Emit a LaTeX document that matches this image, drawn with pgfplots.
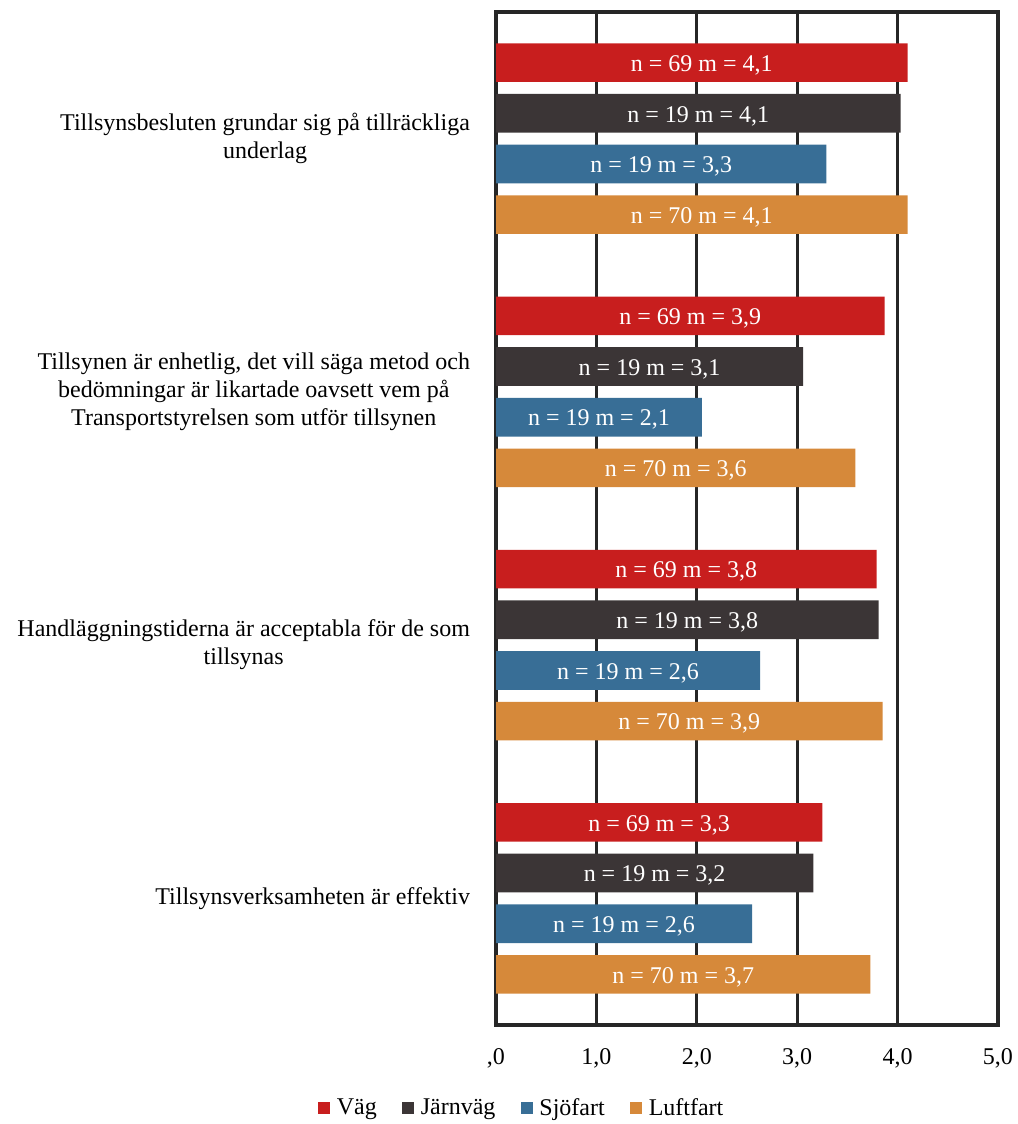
\documentclass[border=0pt]{standalone}
\usepackage{fontspec}
\setmainfont{Liberation Serif}
\usepackage{pgfplots}
\pgfplotsset{compat=1.18}
\usepackage{pgfplotstable}
\definecolor{cVag}{HTML}{C81E1E}
\definecolor{cJarn}{HTML}{3B3536}
\definecolor{cSjo}{HTML}{386E96}
\definecolor{cLuft}{HTML}{D6893A}
\definecolor{cLine}{HTML}{262626}

\pgfplotstableread[col sep=semicolon]{
y;v;lab
0.2;4.10;n = 69 m = 4,1
1.2;3.87;n = 69 m = 3,9
2.2;3.79;n = 69 m = 3,8
3.2;3.25;n = 69 m = 3,3
}\vag
\pgfplotstableread[col sep=semicolon]{
y;v;lab
0.4;4.03;n = 19 m = 4,1
1.4;3.06;n = 19 m = 3,1
2.4;3.81;n = 19 m = 3,8
3.4;3.16;n = 19 m = 3,2
}\jarn
\pgfplotstableread[col sep=semicolon]{
y;v;lab
0.6;3.29;n = 19 m = 3,3
1.6;2.05;n = 19 m = 2,1
2.6;2.63;n = 19 m = 2,6
3.6;2.55;n = 19 m = 2,6
}\sjo
\pgfplotstableread[col sep=semicolon]{
y;v;lab
0.8;4.10;n = 70 m = 4,1
1.8;3.58;n = 70 m = 3,6
2.8;3.85;n = 70 m = 3,9
3.8;3.73;n = 70 m = 3,7
}\luft

\pgfplotsset{
  barstyle/.style={xbar, bar width=29pt, bar shift=0pt, draw=none, fill=#1},
  labstyle/.style={forget plot, only marks, mark=*, mark size=0pt, draw=none,
    nodes near coords, point meta=explicit symbolic,
    every node near coord/.append style={white, anchor=center, inner sep=0pt, yshift=-2pt}},
}

\begin{document}
\begin{tikzpicture}[font=\fontsize{18}{21}\selectfont]
\path[use as bounding box] (0,0) rectangle (762.75pt,843pt);
\begin{axis}[
  at={(372pt,74.25pt)}, anchor=south west, scale only axis,
  width=376.5pt, height=759.75pt,
  xmin=0, xmax=5, ymin=0, ymax=4, y dir=reverse,
  xtick={0,1,2,3,4,5},
  xticklabels={{,0},{1,0},{2,0},{3,0},{4,0},{5,0}},
  ytick={0.5,1.5,2.5,3.5},
  yticklabels={
    {Tillsynsbesluten grundar sig på tillräckliga\\underlag},
    {Tillsynen är enhetlig, det vill säga metod och\\bedömningar är likartade oavsett vem på\\Transportstyrelsen som utför tillsynen},
    {Handläggningstiderna är acceptabla för de som\\tillsynas},
    {Tillsynsverksamheten är effektiv}},
  yticklabel style={align=center, xshift=-16pt},
  xticklabel style={yshift=-14pt},
  major tick length=0pt,
  xmajorgrids,
  grid style={line width=2.2pt, color=cLine},
  axis line style={line width=2.6pt, color=cLine},
  legend columns=4,
  legend style={draw=none, at={(axis description cs:0.056,-0.082)}, anchor=center,
    /tikz/every even column/.append style={column sep=14pt},
    nodes={inner xsep=5pt}},
  legend image code/.code={\fill[#1] (0pt,-4.5pt) rectangle (9pt,4.5pt);},
]
\addplot[barstyle=cVag] table[x=v,y=y]{\vag};
\addlegendentry{Väg}
\addplot[barstyle=cJarn] table[x=v,y=y]{\jarn};
\addlegendentry{Järnväg}
\addplot[barstyle=cSjo] table[x=v,y=y]{\sjo};
\addlegendentry{Sjöfart}
\addplot[barstyle=cLuft] table[x=v,y=y]{\luft};
\addlegendentry{Luftfart}
\addplot[labstyle] table[x expr=\thisrow{v}/2, y=y, meta=lab]{\vag};
\addplot[labstyle] table[x expr=\thisrow{v}/2, y=y, meta=lab]{\jarn};
\addplot[labstyle] table[x expr=\thisrow{v}/2, y=y, meta=lab]{\sjo};
\addplot[labstyle] table[x expr=\thisrow{v}/2, y=y, meta=lab]{\luft};
\end{axis}
\end{tikzpicture}
\end{document}
